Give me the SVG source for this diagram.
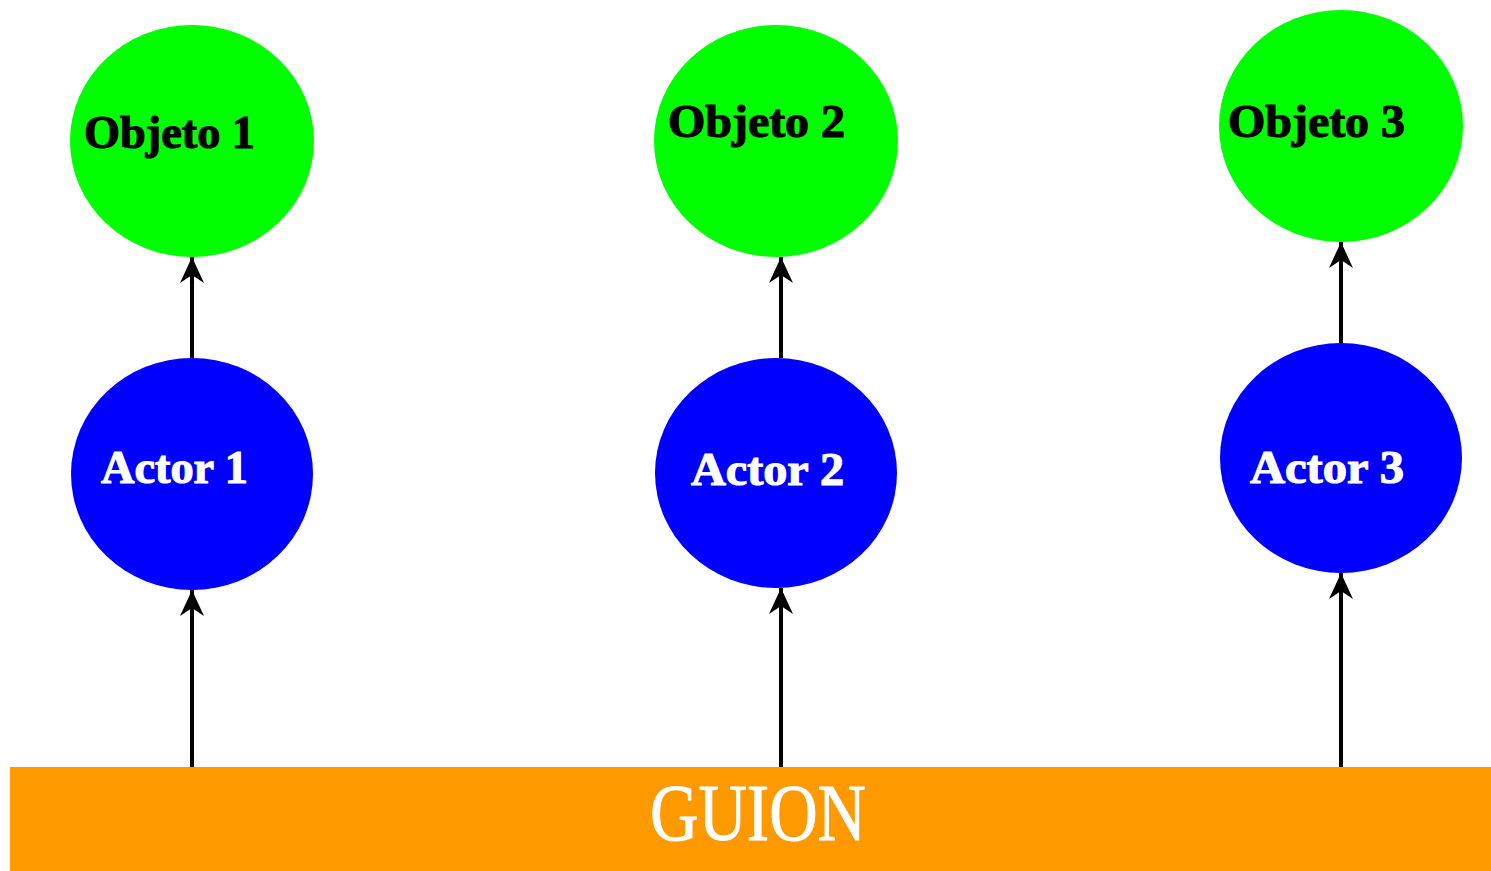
<svg xmlns="http://www.w3.org/2000/svg" width="1491" height="871" viewBox="0 0 1491 871">
<style>
.obj{fill:#00ff00}
.act{fill:#0000ff}
.lbl{font-family:"Liberation Serif","DejaVu Serif",serif;font-weight:bold;font-size:46px;stroke-width:1.2}
.ob{fill:#000;stroke:#000}
.ac{fill:#fff;stroke:#fff}
.edge{stroke:#000;stroke-width:4;fill:none;marker-end:url(#ah)}
</style>
<defs>
<marker id="ah" markerUnits="userSpaceOnUse" markerWidth="30" markerHeight="30" viewBox="-28 -13 30 26" refX="0" refY="0" orient="auto">
<path d="M0,0 L-26,-12 L-18,0 L-26,12 Z" fill="#000"/>
</marker>
</defs>
<rect width="1491" height="871" fill="#fff"/>
<g id="guion">
<rect x="10" y="767" width="1481" height="104" fill="#ff9900"/>
<text x="650" y="840" font-family="Liberation Serif, DejaVu Serif, serif" font-size="80" fill="#fff" stroke="#fff" stroke-width="1" textLength="216" lengthAdjust="spacingAndGlyphs">GUION</text>
</g>
<g id="objeto1"><ellipse class="obj" cx="192" cy="141" rx="122" ry="116"/><text class="lbl ob" x="84" y="148" textLength="171" lengthAdjust="spacingAndGlyphs">Objeto 1</text></g>
<g id="objeto2"><ellipse class="obj" cx="776" cy="141" rx="122" ry="116"/><text class="lbl ob" x="668" y="137" textLength="177" lengthAdjust="spacingAndGlyphs">Objeto 2</text></g>
<g id="objeto3"><ellipse class="obj" cx="1341" cy="126" rx="122" ry="116"/><text class="lbl ob" x="1228" y="137" textLength="177" lengthAdjust="spacingAndGlyphs">Objeto 3</text></g>
<g id="actor1"><ellipse class="act" cx="192" cy="474" rx="121" ry="116"/><text class="lbl ac" x="101" y="483" textLength="147" lengthAdjust="spacingAndGlyphs">Actor 1</text></g>
<g id="actor2"><ellipse class="act" cx="776" cy="473" rx="121" ry="115"/><text class="lbl ac" x="691" y="485" textLength="153" lengthAdjust="spacingAndGlyphs">Actor 2</text></g>
<g id="actor3"><ellipse class="act" cx="1341" cy="458" rx="121" ry="115"/><text class="lbl ac" x="1250" y="483" textLength="154" lengthAdjust="spacingAndGlyphs">Actor 3</text></g>
<g id="connectors">
<line class="edge" x1="192" y1="767" x2="192" y2="590"/>
<line class="edge" x1="192" y1="358" x2="192" y2="257"/>
<line class="edge" x1="781" y1="767" x2="781" y2="588"/>
<line class="edge" x1="781" y1="358" x2="781" y2="257"/>
<line class="edge" x1="1341" y1="767" x2="1341" y2="573"/>
<line class="edge" x1="1341" y1="343" x2="1341" y2="242"/>
</g>
</svg>
